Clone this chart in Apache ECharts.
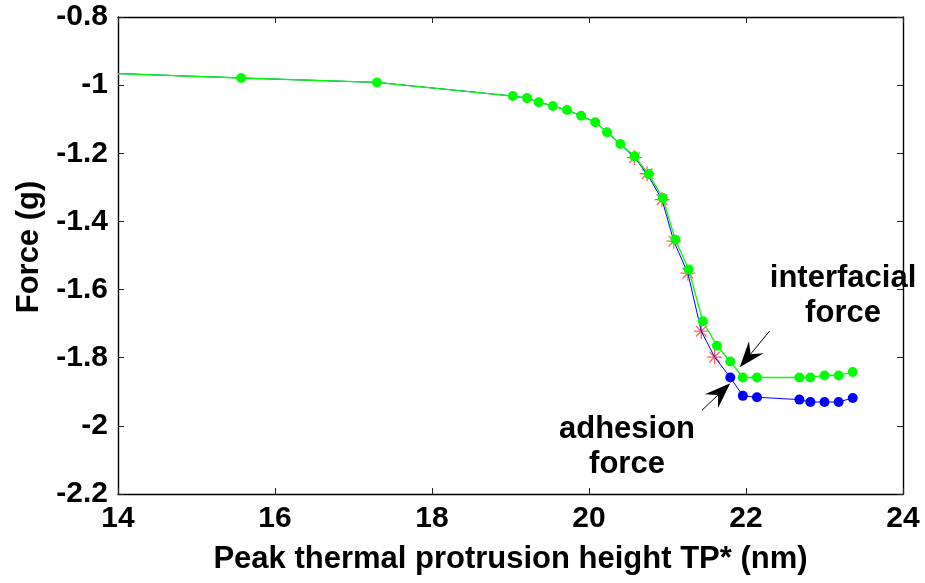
<!DOCTYPE html>
<html><head><meta charset="utf-8">
<script src="https://cdn.jsdelivr.net/npm/echarts@6/dist/echarts.min.js"></script>
<style>html,body{margin:0;padding:0;background:#fff}#c{width:925px;height:583px}</style>
</head><body><div id="c"></div>
<script>
// ---- data ----
const interX = [14.0, 15.57, 17.30, 19.03, 19.21, 19.36, 19.54, 19.72, 19.90, 20.08, 20.23, 20.40, 20.58, 20.76, 20.94, 21.10, 21.27, 21.45, 21.63, 21.80, 21.96, 22.14, 22.68, 22.82, 23.00, 23.18, 23.36];
const interY = [-0.966, -0.979, -0.992, -1.032, -1.038, -1.050, -1.061, -1.073, -1.090, -1.109, -1.138, -1.173, -1.209, -1.261, -1.331, -1.454, -1.541, -1.693, -1.765, -1.811, -1.858, -1.858, -1.858, -1.858, -1.852, -1.852, -1.842];
const interMarkerFrom = 1;

const adhX = [14.0, 15.57, 17.30, 19.03, 19.21, 19.36, 19.54, 19.72, 19.90, 20.08, 20.23, 20.40, 20.58, 20.74, 20.93, 21.08, 21.26, 21.43, 21.60, 21.80, 21.96, 22.14, 22.68, 22.82, 23.00, 23.18, 23.36];
const adhY = [-0.966, -0.979, -0.992, -1.032, -1.038, -1.050, -1.061, -1.073, -1.090, -1.109, -1.138, -1.173, -1.213, -1.260, -1.336, -1.458, -1.552, -1.722, -1.798, -1.858, -1.912, -1.916, -1.923, -1.930, -1.930, -1.930, -1.918];
const adhMarkerFrom = 19;

const starX = [20.58, 20.74, 20.93, 21.08, 21.26, 21.43, 21.60];
const starY = [-1.213, -1.260, -1.336, -1.458, -1.552, -1.722, -1.798];

const xMin = 14, xMax = 24, xStep = 2;
const yMin = -2.2, yMax = -0.8, yStep = 0.2;

const xTitle = 'Peak thermal protrusion height TP* (nm)';
const yTitle = 'Force (g)';

// annotations (data coordinates)
const arrows = [
  { from: [22.30, -1.722], to: [21.92, -1.828] },
  { from: [21.44, -1.954], to: [21.80, -1.875] }
];
const notes = [
  { text: 'interfacial\nforce', at: [23.236, -1.618] },
  { text: 'adhesion\nforce', at: [20.484, -2.062] }
];

// ---- chart ----
const FONT = '"Liberation Sans", Arial, Helvetica, sans-serif';
const chart = echarts.init(document.getElementById('c'), null, { renderer: 'canvas' });
const fmt = v => String(parseFloat(Number(v).toFixed(1)));
const tickStyle = { inside: true, length: 6, lineStyle: { color: '#222', width: 1 } };
const lineStyleAx = { show: true, onZero: false, lineStyle: { color: '#000', width: 1.4 } };
const labelStyle = { color: '#000', fontFamily: FONT, fontWeight: 'bold', fontSize: 30 };

const starPath = 'path://M0,6 L12,6 M6,0 L6,12 M1.76,1.76 L10.24,10.24 M1.76,10.24 L10.24,1.76';

const option = {
  animation: false,
  backgroundColor: '#fff',
  grid: { left: 118, right: 22, top: 17, bottom: 89 },
  xAxis: [
    { type: 'value', min: xMin, max: xMax, interval: xStep, position: 'bottom',
      axisLine: lineStyleAx, axisTick: tickStyle, splitLine: { show: false },
      axisLabel: Object.assign({ margin: 10, formatter: fmt }, labelStyle),
      name: xTitle, nameLocation: 'middle', nameGap: 50,
      nameTextStyle: { color: '#000', fontFamily: FONT, fontWeight: 'bold', fontSize: 31 } },
    { type: 'value', min: xMin, max: xMax, interval: xStep, position: 'top',
      axisLine: lineStyleAx, axisTick: tickStyle, splitLine: { show: false }, axisLabel: { show: false } }
  ],
  yAxis: [
    { type: 'value', min: yMin, max: yMax, interval: yStep, position: 'left',
      axisLine: lineStyleAx, axisTick: tickStyle, splitLine: { show: false },
      axisLabel: Object.assign({ margin: 10, formatter: fmt }, labelStyle) },
    { type: 'value', min: yMin, max: yMax, interval: yStep, position: 'right',
      axisLine: lineStyleAx, axisTick: tickStyle, splitLine: { show: false }, axisLabel: { show: false } }
  ],
  series: [
    { type: 'scatter', name: 'stars', z: 2, symbol: starPath, symbolSize: 15,
      data: starX.map((x, i) => [x, starY[i]]),
      itemStyle: { color: 'rgba(255,0,0,0)', borderColor: '#ff3b3b', borderWidth: 1.3 } },
    { type: 'line', name: 'adhesion', z: 3, showAllSymbol: true, symbolSize: 10,
      data: adhX.map((x, i) => ({ value: [x, adhY[i]], symbol: i >= adhMarkerFrom ? 'circle' : 'none' })),
      lineStyle: { color: '#0000ff', width: 1 }, itemStyle: { color: '#0000ff' } },
    { type: 'line', name: 'interfacial', z: 4, showAllSymbol: true, symbolSize: 10,
      data: interX.map((x, i) => ({ value: [x, interY[i]], symbol: i >= interMarkerFrom ? 'circle' : 'none' })),
      lineStyle: { color: '#00ff00', width: 1.3 }, itemStyle: { color: '#00ff00' } }
  ]
};
chart.setOption(option);

// ---- annotations ----
const px = p => chart.convertToPixel({ gridIndex: 0 }, p);
const g = [];
arrows.forEach(a => {
  const t0 = px(a.from), t1 = px(a.to);
  const dx = t1[0] - t0[0], dy = t1[1] - t0[1];
  const len = Math.hypot(dx, dy), ux = dx / len, uy = dy / len;
  const nx = -uy, ny = ux;
  const L = 26, W = 9.5, notch = 9;
  const base = [t1[0] - ux * L, t1[1] - uy * L];
  const inner = [t1[0] - ux * (L - notch), t1[1] - uy * (L - notch)];
  g.push({ type: 'line', shape: { x1: t0[0], y1: t0[1], x2: inner[0], y2: inner[1] },
           style: { stroke: '#000', lineWidth: 1 }, z: 10 });
  g.push({ type: 'polygon', shape: { points: [
            t1, [base[0] + nx * W, base[1] + ny * W], inner, [base[0] - nx * W, base[1] - ny * W]] },
           style: { fill: '#000' }, z: 10 });
});
notes.forEach(n => {
  const p = px(n.at);
  g.push({ type: 'text', x: p[0], y: p[1], z: 10,
           style: { text: n.text, align: 'center', verticalAlign: 'middle', fill: '#000',
                    fontFamily: FONT, fontWeight: 'bold', fontSize: 31, lineHeight: 35 } });
});
g.push({ type: 'text', x: 29, y: 247, rotation: Math.PI / 2, z: 10,
         style: { text: yTitle, align: 'center', verticalAlign: 'middle', fill: '#000',
                  fontFamily: FONT, fontWeight: 'bold', fontSize: 31 } });
chart.setOption({ graphic: g });
</script>
</body></html>
